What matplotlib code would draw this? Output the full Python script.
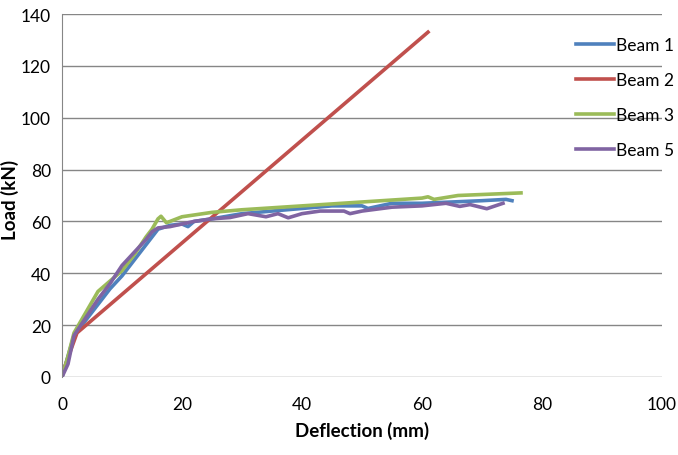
import matplotlib.pyplot as plt

plt.rcParams['font.family'] = ['Lato', 'DejaVu Sans']

# Beam 1
b1_x = [0, 1, 2, 4, 6, 8, 10, 12, 14, 16, 18, 20, 21, 22, 25, 30, 35, 40, 45, 50, 51, 55, 60, 65, 70, 74, 75]
b1_y = [0, 8, 16, 22, 28, 34, 39, 45, 51, 57, 58.5, 59, 58, 60, 61, 63, 64, 65, 66, 66, 65, 67, 67, 67.5, 68, 68.5, 68]
# Beam 2
b2_x = [0, 2.5, 61]
b2_y = [1, 17, 133]
# Beam 3
b3_x = [0, 1, 2, 3, 4, 5, 6, 7, 8, 10, 12, 14, 15, 16, 16.5, 17.4, 18, 20, 25, 30, 40, 50, 60, 61, 62, 66, 76.5]
b3_y = [0, 8, 17, 21, 25, 29, 33, 35, 37, 41, 47, 54, 57, 61, 62, 59.5, 60, 61.8, 63.5, 64.5, 66, 67.5, 69, 69.5, 68.5, 70, 71]
# Beam 5
b5_x = [0, 1, 2, 4, 6, 8, 10, 12, 14, 15, 16, 18, 20, 22, 25, 28, 31, 34, 36, 37.7, 40, 43, 45, 47, 48, 50, 55, 60, 64, 66.3, 68, 70.8, 73.5]
b5_y = [0, 5, 16, 23, 30, 36, 43, 48, 53, 56, 57.5, 58, 59, 60, 61, 61.5, 63, 61.8, 63, 61.4, 63, 64, 64, 64, 63, 64, 65.5, 66, 67, 65.8, 66.5, 64.9, 67]

fig = plt.figure(figsize=(6.78, 4.56), dpi=100)
ax = fig.add_axes([62/678, 78/456, 600/678, 363/456])

ax.plot(b1_x, b1_y, color='#4F81BD', lw=2.6, label='Beam 1')
ax.plot(b2_x, b2_y, color='#C0504D', lw=2.6, label='Beam 2')
ax.plot(b3_x, b3_y, color='#9BBB59', lw=2.6, label='Beam 3')
ax.plot(b5_x, b5_y, color='#8064A2', lw=2.6, label='Beam 5')

ax.set_xlim(0, 100)
ax.set_ylim(0, 140)
ax.set_xticks(range(0, 101, 20))
ax.set_yticks(range(0, 141, 20))
ax.grid(axis='y', color='#868686', lw=1)
ax.set_axisbelow(True)
for s in ['top', 'right', 'bottom']:
    ax.spines[s].set_visible(False)
ax.spines['left'].set_color('#868686')
ax.tick_params(length=0, labelsize=12.5, colors='black', pad=8)
ax.tick_params(axis='x', pad=14)

ax.set_xlabel('Deflection (mm)', fontsize=13.5, fontweight='bold', labelpad=6)
fig.text(10/678, 1 - 200/456, 'Load (kN)', rotation=90, fontsize=13.5, fontweight='bold', ha='center', va='center')

ax.legend(loc='upper left', bbox_to_anchor=(560/678, 1 - 22/456), bbox_transform=fig.transFigure,
          frameon=False, fontsize=12.5, labelspacing=1.1, handlelength=2.2, handletextpad=0.1)

plt.savefig('out.png', dpi=100)
